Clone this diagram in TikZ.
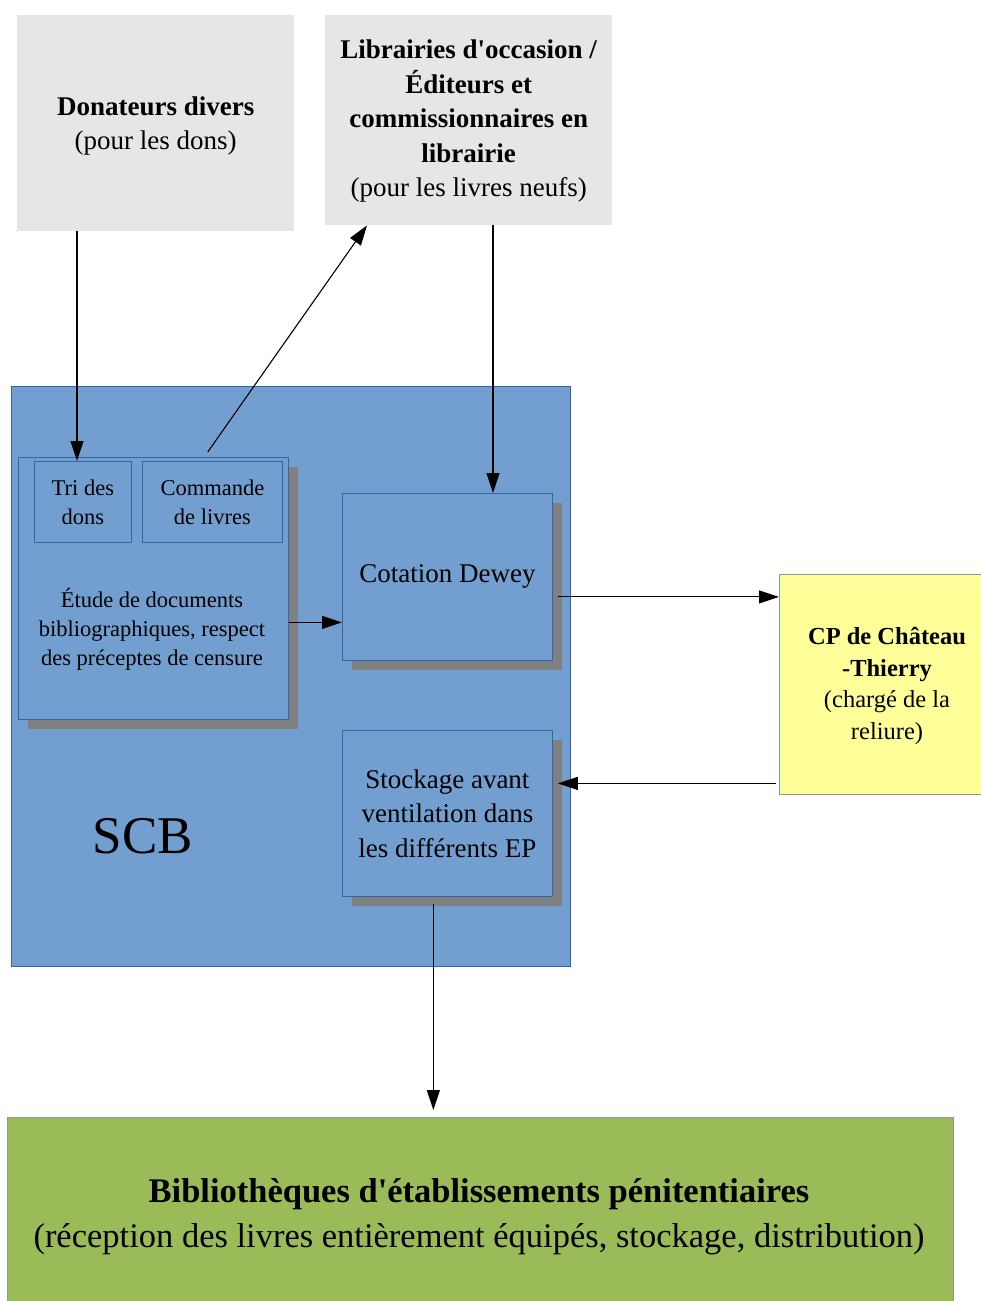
\documentclass[tikz,border=0pt]{standalone}
\usepackage{fontspec}
\setmainfont{Liberation Serif}[Ligatures=TeXOff]
\usetikzlibrary{arrows.meta,calc,shadows}
\definecolor{boxgray}{HTML}{E6E6E6}
\definecolor{scbblue}{HTML}{729FCF}
\definecolor{scbedge}{HTML}{3465A4}
\definecolor{cpyellow}{HTML}{FFFF99}
\definecolor{bibgreen}{HTML}{9BBB59}
\definecolor{shadowgray}{HTML}{808080}
\definecolor{edgegray}{HTML}{8A9A9A}
\tikzset{
  box/.style={rectangle, anchor=north west, inner sep=0pt, align=center},
  graybox/.style={box, fill=boxgray},
  bluebox/.style={box, fill=scbblue, draw=scbedge, line width=0.8pt},
  shadowed/.style={drop shadow={shadow xshift=10pt, shadow yshift=-10pt, fill=shadowgray, opacity=1}},
  arr/.style={line width=1.1pt, -{Triangle[length=20pt,width=13pt]}},
  big/.style={font=\fontsize{27}{34.5}\selectfont, align=center},
  small/.style={font=\fontsize{22.5}{29}\selectfont, align=center},
}
\begin{document}
\begin{tikzpicture}[x=1pt,y=-1pt]
\clip (0,0) rectangle (981,1301);
\fill[white] (0,0) rectangle (981,1301);
% top gray boxes
\node[graybox, minimum width=277pt, minimum height=216pt] (don) at (17,15) {};
\node[big] (dontext) at ([yshift=-3pt]don.center) {\textbf{Donateurs divers}\\(pour les dons)};
\node[graybox, minimum width=287pt, minimum height=210pt] (lib) at (325,15) {};
\node[big] (libtext) at ([yshift=-1pt]lib.center) {\textbf{Librairies d'occasion /}\\\textbf{Éditeurs et}\\\textbf{commissionnaires en}\\\textbf{librairie}\\(pour les livres neufs)};
% SCB
\node[bluebox, minimum width=559pt, minimum height=580pt] (scb) at (11,386) {};
\node[font=\fontsize{53}{60}\selectfont] (scbtext) at (143,836) {SCB};
% inner boxes
\node[bluebox, shadowed, minimum width=270pt, minimum height=262pt] (etude) at (18,457) {};
\node[small] (etudetext) at (152,629) {Étude de documents\\bibliographiques, respect\\des préceptes de censure};
\node[bluebox, minimum width=97pt, minimum height=81pt, small] (tri) at (34,461) {Tri des\\dons};
\node[bluebox, minimum width=140pt, minimum height=81pt, small] (comm) at (142,461) {Commande\\de livres};
\node[bluebox, shadowed, minimum width=210pt, minimum height=167pt, big] (cot) at (342,493) {Cotation Dewey};
\node[bluebox, shadowed, minimum width=210pt, minimum height=166pt, big] (stock) at (342,730) {Stockage avant\\ventilation dans\\les différents EP};
% CP
\node[box, fill=cpyellow, draw=edgegray, line width=0.8pt, minimum width=220pt, minimum height=220pt] (cp) at (779,574) {};
\node[font=\fontsize{24.5}{31.5}\selectfont, align=center] (cptext) at (887,686) {\textbf{CP de Château}\\\textbf{-Thierry}\\(chargé de la\\reliure)};
% Biblio
\node[box, fill=bibgreen, draw=edgegray, line width=0.8pt, minimum width=946pt, minimum height=200pt] (bib) at (7,1117) {};
\node[font=\fontsize{34.5}{45}\selectfont, align=center] (bibtext) at (479,1217) {\textbf{Bibliothèques d'établissements pénitentiaires}\\(réception des livres entièrement équipés, stockage, distribution)};
% arrows
\draw[arr] (77,231) coordinate (dstart) -- (tri.north -| dstart);
\draw[arr, shorten <=11pt] ([xshift=-11pt]comm.north) -- ($(lib.south west)+(42,0)$);
\draw[arr] ($(lib.south west)+(168,0)$) coordinate (lstart) -- (lstart |- cot.north);
\draw[arr] ([yshift=-34pt]etude.east) -- ([yshift=-34pt]etude.east -| cot.west);
\draw[arr, shorten <=5pt] ([yshift=-20pt]cot.east) -- ([yshift=-20pt]cot.east -| cp.west);
\draw[arr, shorten <=3pt, shorten >=5pt] ([yshift=30pt]stock.east -| cp.west) -- ([yshift=30pt]stock.east);
\draw[arr, shorten <=7pt, shorten >=7pt] ([xshift=-14pt]stock.south) -- ([xshift=-14pt]stock.south |- bib.north);
\end{tikzpicture}
\end{document}
